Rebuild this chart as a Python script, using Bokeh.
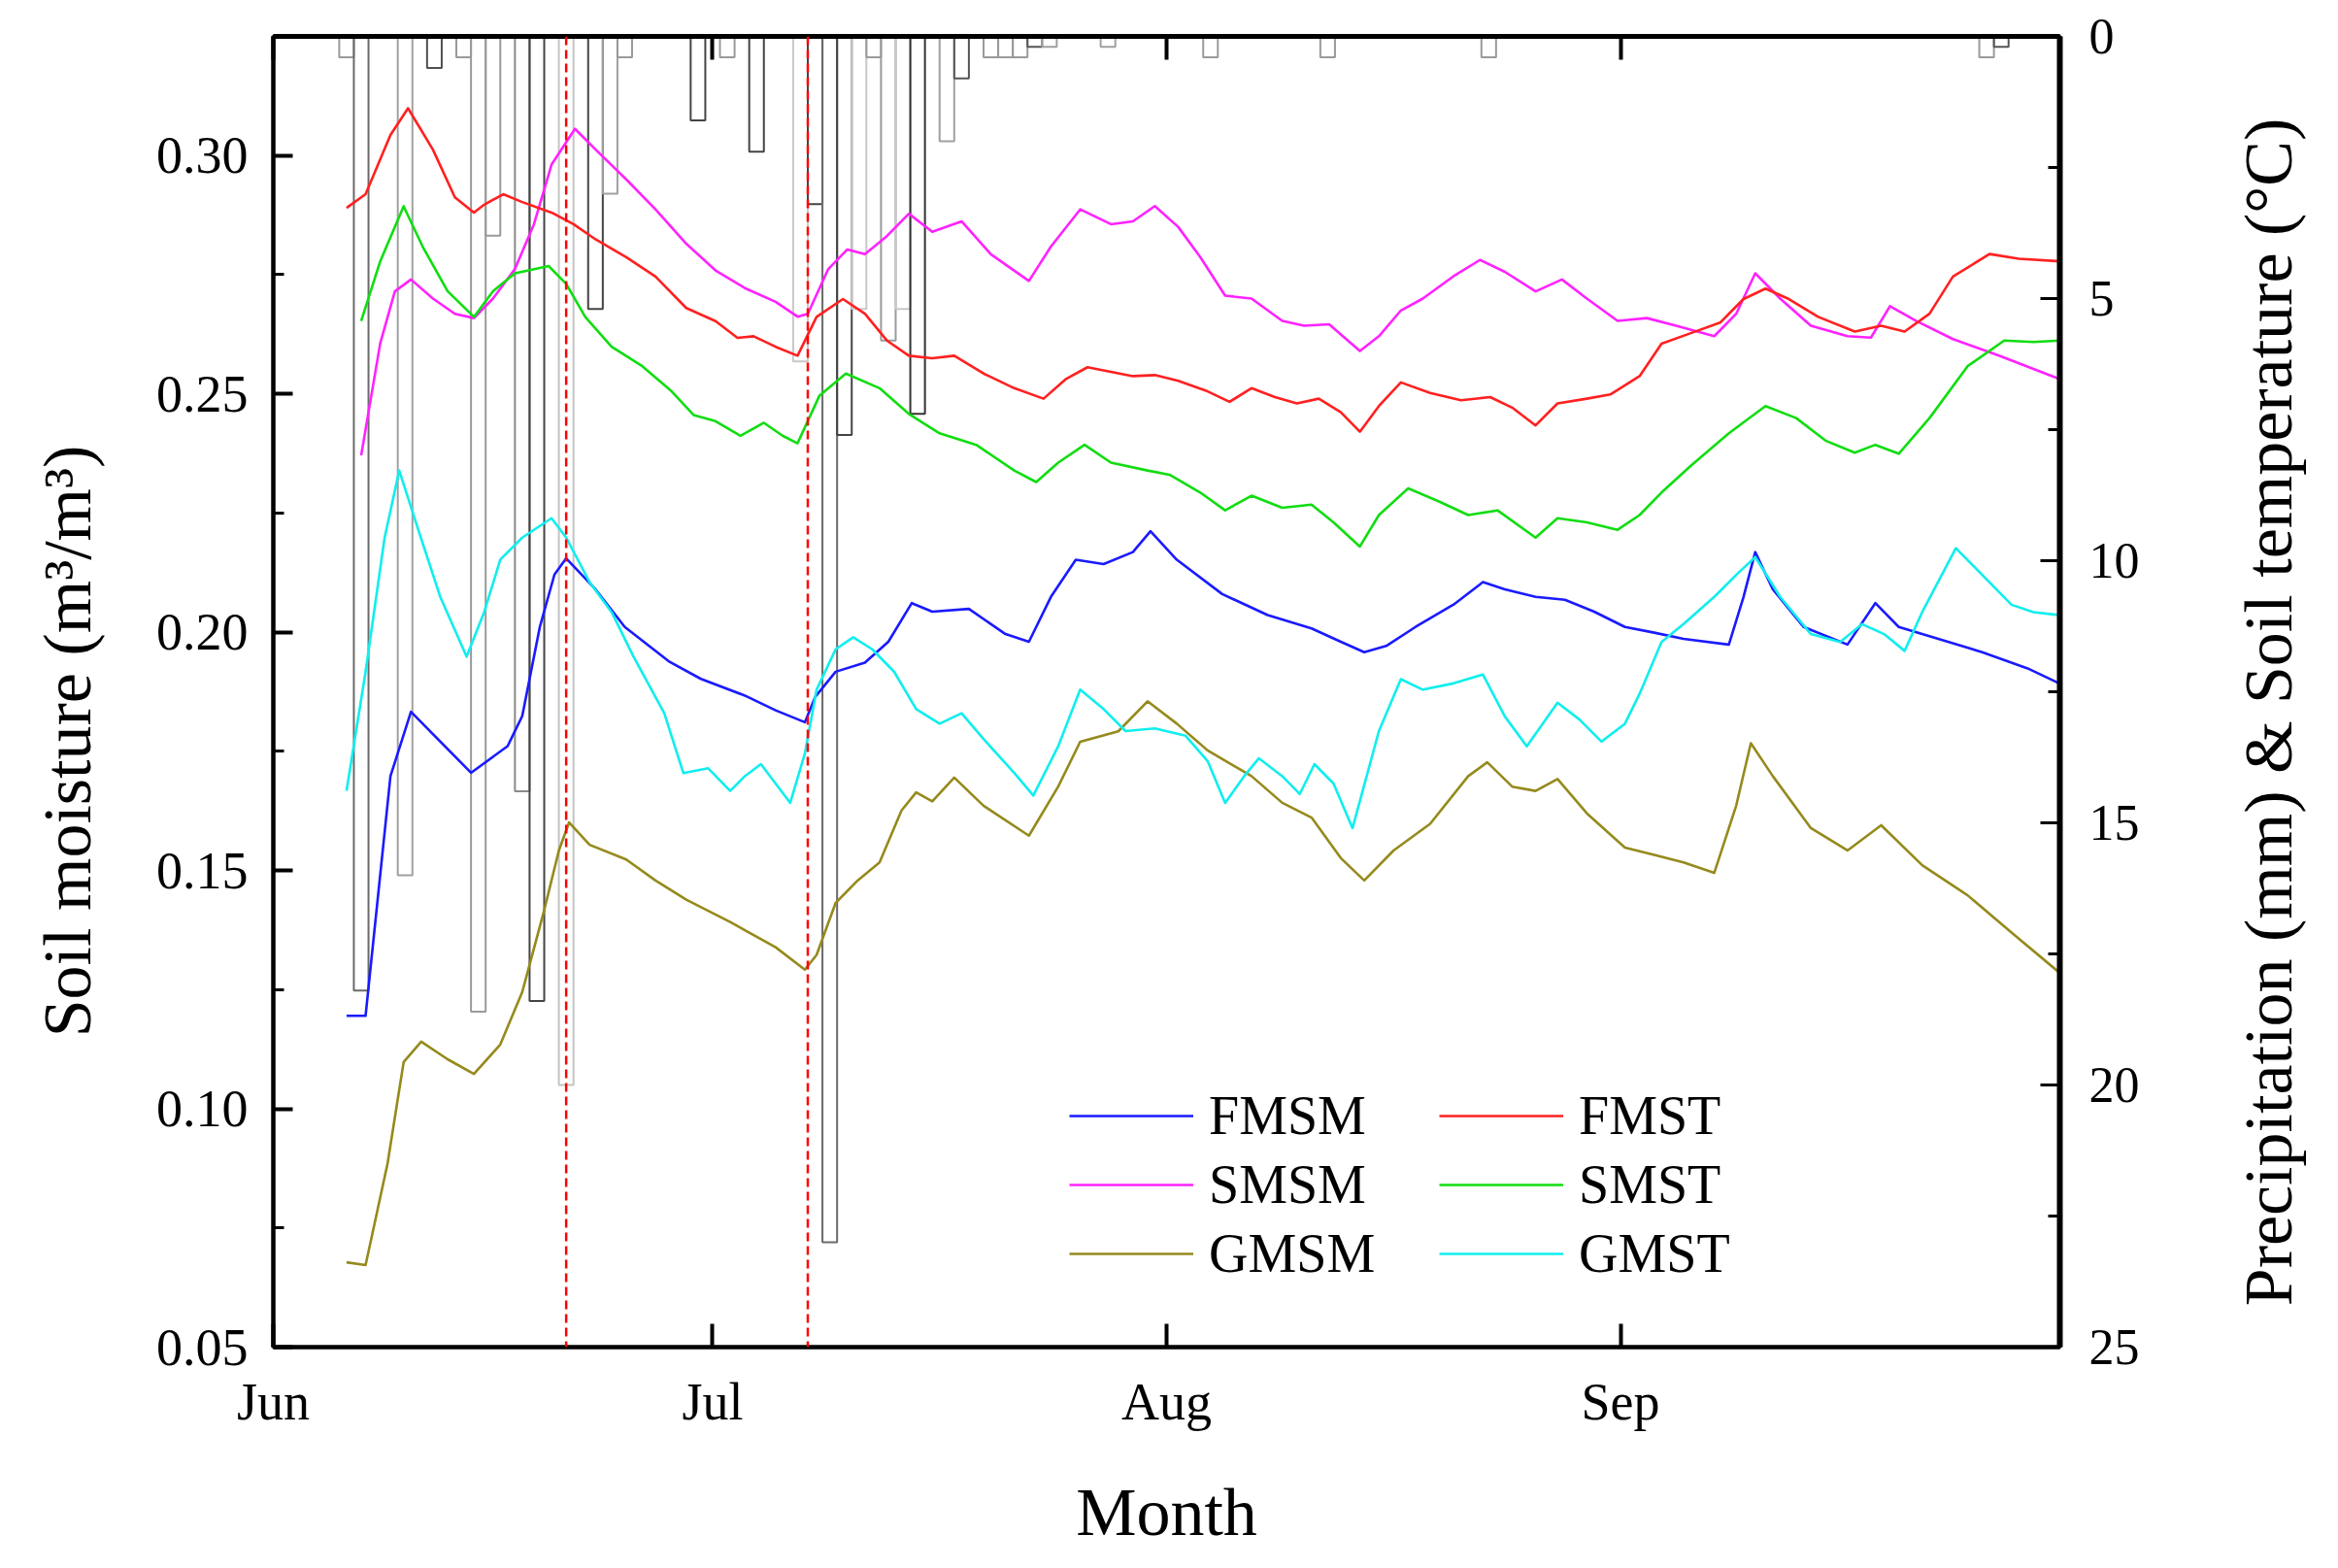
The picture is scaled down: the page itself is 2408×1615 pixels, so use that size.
import math
from bokeh.plotting import figure
from bokeh.layouts import row
from bokeh.core.properties import value
from bokeh.models import (Range1d, LinearAxis, FixedTicker, PrintfTickFormatter,
                          Legend, LegendItem, Span, ColumnDataSource)
from bokeh.embed import file_html
from bokeh.resources import INLINE

# ---------------- data (x = days since 1 June) ----------------
month_ticks = [0, 30, 61, 92]
month_labels = ["Jun", "Jul", "Aug", "Sep"]
event_days = [20, 36.5]

prcp_day = [5, 6, 9, 11, 13, 14, 15, 17, 18, 20, 22, 23, 24, 29, 31, 33, 36, 37, 38, 39,
            40, 41, 42, 43, 44, 46, 47, 49, 50, 51, 52, 53, 57, 64, 72, 83, 117, 118]
prcp_mm = [0.4, 18.2, 16.0, 0.6, 0.4, 18.6, 3.8, 14.4, 18.4, 20.0, 5.2, 3.0, 0.4, 1.6, 0.4, 2.2,
           6.2, 3.2, 23.0, 7.6, 5.2, 0.4, 5.8, 5.2, 7.2, 2.0, 0.8, 0.4, 0.4, 0.4, 0.2, 0.2,
           0.2, 0.4, 0.4, 0.4, 0.4, 0.2]
prcp_shade = ["#9a9a9a", "#6a6a6a", "#a0a0a0", "#505050", "#9a9a9a", "#9a9a9a", "#9a9a9a",
              "#8a8a8a", "#444444", "#c4c4c4", "#444444", "#a0a0a0", "#9a9a9a", "#444444",
              "#9a9a9a", "#444444", "#c8c8c8", "#444444", "#6a6a6a", "#444444", "#c8c8c8",
              "#9a9a9a", "#9a9a9a", "#c8c8c8", "#333333", "#a0a0a0", "#555555", "#9a9a9a",
              "#9a9a9a", "#9a9a9a", "#555555", "#a0a0a0", "#a0a0a0", "#9a9a9a", "#9a9a9a",
              "#9a9a9a", "#9a9a9a", "#555555"]

fmsm_day = [5, 6.3, 8, 9.4, 13.5, 16, 17, 18.2, 19.2, 20, 22, 24, 27, 29.2, 32.2, 34.3, 36.3, 37,
            38.4, 40.4, 42, 43.6, 45, 47.5, 50, 51.6, 53.1, 54.8, 56.7, 58.7, 59.9, 61.7, 64.8,
            67.9, 70.9, 72.9, 74.5, 76, 78, 80.6, 82.6, 84.1, 86.2, 88.2, 90.2, 92.3, 94.3, 96.3,
            99.4, 100.4, 101.2, 102.4, 104.5, 107.5, 109.4, 111, 113.7, 116.7, 119.8, 122]
fmsm = [0.1195, 0.1195, 0.1698, 0.1833, 0.1705, 0.1761, 0.1824, 0.2011, 0.2121, 0.2155, 0.2090,
        0.2011, 0.1939, 0.1902, 0.1867, 0.1836, 0.1811, 0.1864, 0.1917, 0.1936, 0.1980, 0.2061,
        0.2043, 0.2049, 0.1996, 0.1980, 0.2074, 0.2152, 0.2143, 0.2168, 0.2212, 0.2152, 0.2080,
        0.2036, 0.2008, 0.1980, 0.1958, 0.1971, 0.2011, 0.2058, 0.2105, 0.2090, 0.2074, 0.2068,
        0.2043, 0.2011, 0.1999, 0.1986, 0.1974, 0.2074, 0.2168, 0.2090, 0.2011, 0.1974, 0.2061,
        0.2011, 0.1986, 0.1958, 0.1924, 0.1892]

smsm_day = [6, 7.3, 8.3, 9.4, 10.9, 12.4, 13.7, 15, 16.5, 17.8, 19, 20.6, 22, 24.1, 26.1, 28.2,
            30.2, 32.2, 34.3, 35.8, 36.5, 37.9, 39.2, 40.4, 41.9, 43.4, 45, 47, 49, 51.6, 53.1,
            55.1, 57.2, 58.7, 60.2, 61.8, 63.3, 65, 66.8, 68.9, 70.4, 72.1, 74.2, 75.5, 77, 78.5,
            80.6, 82.4, 84.1, 86.2, 88, 89.7, 91.8, 93.8, 95.8, 98.4, 99.9, 101.2, 102.9, 105,
            107.5, 109.1, 110.4, 112.2, 114.7, 117.8, 122]
smsm = [0.2371, 0.2606, 0.2715, 0.2740, 0.2700, 0.2668, 0.2659, 0.2700, 0.2762, 0.2856, 0.2981,
        0.3056, 0.3013, 0.2950, 0.2887, 0.2815, 0.2759, 0.2722, 0.2693, 0.2662, 0.2668, 0.2762,
        0.2803, 0.2793, 0.2831, 0.2878, 0.2840, 0.2862, 0.2793, 0.2737, 0.2809, 0.2887, 0.2856,
        0.2862, 0.2894, 0.2850, 0.2787, 0.2706, 0.2700, 0.2653, 0.2643, 0.2646, 0.2590, 0.2621,
        0.2675, 0.2700, 0.2747, 0.2781, 0.2756, 0.2715, 0.2740, 0.2700, 0.2653, 0.2659, 0.2643,
        0.2621, 0.2668, 0.2753, 0.2700, 0.2643, 0.2621, 0.2618, 0.2684, 0.2653, 0.2615, 0.2581,
        0.2531]

gmsm_day = [5, 6.3, 7.8, 8.9, 10.1, 11.9, 13.7, 15.5, 17, 18.5, 19.5, 20.2, 21.6, 24.1, 26.1,
            28.2, 31.2, 34.3, 36.3, 37.1, 38.4, 39.9, 41.4, 42.9, 43.9, 45, 46.5, 48.5, 51.6,
            53.6, 55.1, 57.7, 59.7, 61.7, 63.8, 66.8, 68.9, 70.9, 72.9, 74.5, 76.5, 79, 81.6,
            82.9, 84.6, 86.2, 87.7, 89.7, 92.3, 94.3, 96.3, 98.4, 99.9, 100.9, 102.4, 105, 107.5,
            109.8, 112.6, 115.7, 118.7, 122]
gmsm = [0.0678, 0.0672, 0.0885, 0.1098, 0.1141, 0.1104, 0.1073, 0.1135, 0.1245, 0.1417, 0.1542,
        0.1601, 0.1554, 0.1523, 0.1479, 0.1439, 0.1392, 0.1339, 0.1292, 0.1323, 0.1432, 0.1479,
        0.1517, 0.1626, 0.1664, 0.1645, 0.1695, 0.1636, 0.1573, 0.1676, 0.1770, 0.1792, 0.1855,
        0.1808, 0.1752, 0.1698, 0.1642, 0.1611, 0.1526, 0.1479, 0.1542, 0.1598, 0.1698, 0.1727,
        0.1676, 0.1667, 0.1692, 0.1620, 0.1548, 0.1533, 0.1517, 0.1495, 0.1636, 0.1767, 0.1698,
        0.1589, 0.1542, 0.1595, 0.1511, 0.1448, 0.1370, 0.1285]

fmst_day = [5, 6.3, 8, 9.2, 10.9, 12.4, 13.7, 14.4, 15.7, 17, 19, 20.5, 22, 24.1, 26.1, 28.2,
            30.2, 31.7, 32.8, 34.3, 35.8, 37.1, 38.9, 40.4, 41.9, 43.4, 45, 46.5, 48.5, 50.6,
            52.6, 54.1, 55.6, 57.2, 58.7, 60.2, 61.8, 63.8, 65.3, 66.8, 68.4, 69.9, 71.4, 72.9,
            74.2, 75.5, 77, 79, 81.1, 83.1, 84.6, 86.2, 87.7, 89.7, 91.3, 93.3, 94.8, 96.8, 98.8,
            100.4, 101.9, 103.5, 105.5, 108, 109.8, 111.4, 113.1, 114.7, 117.2, 119.2, 122]
fmst = [3.27, 3.01, 1.88, 1.37, 2.16, 3.07, 3.36, 3.21, 3.01, 3.16, 3.36, 3.58, 3.87, 4.21, 4.58,
        5.18, 5.43, 5.75, 5.72, 5.92, 6.09, 5.35, 5.01, 5.29, 5.80, 6.09, 6.14, 6.09, 6.43, 6.71,
        6.91, 6.54, 6.31, 6.40, 6.48, 6.46, 6.57, 6.77, 6.97, 6.71, 6.88, 7.00, 6.91, 7.17, 7.54,
        7.05, 6.60, 6.80, 6.94, 6.88, 7.08, 7.42, 7.00, 6.91, 6.83, 6.48, 5.86, 5.66, 5.46, 5.01,
        4.81, 5.01, 5.35, 5.63, 5.52, 5.63, 5.29, 4.58, 4.15, 4.24, 4.29]

smst_day = [6, 7.3, 8.9, 10.2, 11.9, 13.7, 15, 16.5, 18.8, 20, 21.3, 23.1, 25.2, 27.2, 28.7,
            30.2, 31.9, 33.5, 34.8, 35.8, 37.3, 39.1, 41.4, 43.4, 45.5, 48, 50.6, 52.1, 53.6,
            55.4, 57.2, 59.7, 61.2, 63.3, 65, 66.8, 68.9, 70.9, 72.4, 74.2, 75.5, 77.5, 79.6,
            81.6, 83.6, 86.2, 87.7, 89.7, 91.8, 93.3, 94.8, 96.8, 99.4, 101.9, 104, 106, 108,
            109.4, 111, 113.1, 115.7, 118.2, 120.2, 122]
smst = [5.43, 4.29, 3.24, 4.01, 4.86, 5.35, 4.86, 4.52, 4.38, 4.72, 5.35, 5.92, 6.29, 6.77, 7.22,
        7.34, 7.62, 7.37, 7.62, 7.76, 6.85, 6.43, 6.71, 7.20, 7.57, 7.79, 8.28, 8.50, 8.13, 7.79,
        8.13, 8.28, 8.36, 8.70, 9.04, 8.76, 8.99, 8.93, 9.27, 9.73, 9.13, 8.62, 8.87, 9.13, 9.04,
        9.56, 9.19, 9.27, 9.41, 9.13, 8.70, 8.19, 7.57, 7.05, 7.28, 7.71, 7.94, 7.79, 7.96, 7.28,
        6.29, 5.80, 5.83, 5.80]

gmst_day = [5, 6.3, 7.6, 8.6, 9.9, 11.4, 13.2, 14.4, 15.5, 17, 19, 20, 21.6, 23.1, 24.6, 26.7,
            28, 29.7, 31.2, 32.2, 33.3, 34.3, 35.3, 36.3, 37.1, 38.4, 39.6, 40.9, 42.4, 43.9,
            45.5, 47, 48.5, 50.6, 51.9, 53.6, 55.1, 56.7, 58.2, 60.2, 62.3, 63.8, 65, 66.3, 67.3,
            68.9, 70.1, 71.1, 72.4, 73.7, 75.5, 77, 78.5, 80.6, 82.6, 84.1, 85.6, 87.7, 89.2,
            90.7, 92.3, 93.3, 94.8, 96.3, 98.4, 99.9, 101.2, 102.9, 105, 107, 108.5, 110, 111.4,
            112.6, 114.9, 116.7, 118.7, 120.2, 122]
gmst = [14.39, 12.12, 9.56, 8.28, 9.41, 10.69, 11.83, 10.98, 9.98, 9.56, 9.19, 9.56, 10.41, 10.98,
        11.83, 12.91, 14.05, 13.96, 14.39, 14.11, 13.88, 14.25, 14.62, 13.68, 12.46, 11.69, 11.46,
        11.69, 12.12, 12.83, 13.11, 12.91, 13.40, 14.05, 14.48, 13.54, 12.46, 12.83, 13.25, 13.20,
        13.34, 13.82, 14.62, 14.11, 13.77, 14.11, 14.45, 13.88, 14.25, 15.10, 13.25, 12.26, 12.46,
        12.34, 12.17, 12.97, 13.54, 12.71, 13.03, 13.45, 13.11, 12.54, 11.55, 11.21, 10.69, 10.27,
        9.93, 10.69, 11.40, 11.55, 11.21, 11.40, 11.72, 10.98, 9.76, 10.27, 10.84, 10.98, 11.04]

left_title = "Soil moisture (m³/m³)"
right_title = "Precipitation (mm) & Soil temperature (°C)"

# ---------------- layout constants ----------------
SERIF = "Liberation Serif"
LEFT_W = 120
RIGHT_W = 118
MAIN_W = 2408 - LEFT_W - RIGHT_W
FRAME_L, FRAME_R, FRAME_T, FRAME_B = 281, 2121, 37, 1387
FRAME_H = FRAME_B - FRAME_T

p = figure(width=MAIN_W, height=1615, output_backend="svg", toolbar_location=None,
           x_range=Range1d(0, 122), y_range=Range1d(0.05, 0.325),
           min_border_left=FRAME_L - LEFT_W, min_border_right=(LEFT_W + MAIN_W) - FRAME_R,
           min_border_top=FRAME_T, min_border_bottom=1615 - FRAME_B,
           background_fill_color="white", border_fill_color="white")
p.extra_y_ranges = {"r": Range1d(start=25, end=0)}
p.grid.visible = False
p.outline_line_color = "black"
p.outline_line_width = 4

# precipitation bars hanging from the top
src = ColumnDataSource(dict(x=prcp_day, v=prcp_mm, c=prcp_shade, z=[0] * len(prcp_day)))
p.vbar(x="x", width=1.0, top="z", bottom="v", source=src, y_range_name="r",
       fill_color=None, line_color="c", line_width=2)

lw = 2.6
r_fmsm = p.line(fmsm_day, fmsm, line_color="#1a1aff", line_width=lw, line_join="round")
r_smsm = p.line(smsm_day, smsm, line_color="#ff22ff", line_width=lw, line_join="round")
r_gmsm = p.line(gmsm_day, gmsm, line_color="#958a1c", line_width=lw, line_join="round")
r_fmst = p.line(fmst_day, fmst, line_color="#ff2020", line_width=lw, y_range_name="r", line_join="round")
r_smst = p.line(smst_day, smst, line_color="#11dd11", line_width=lw, y_range_name="r", line_join="round")
r_gmst = p.line(gmst_day, gmst, line_color="#11eeee", line_width=lw, y_range_name="r", line_join="round")

for d in event_days:
    p.add_layout(Span(location=d, dimension="height", line_color="#ff0000",
                      line_dash="9 5", line_width=2.5))

# ---------------- axes ----------------
xa = p.xaxis[0]
xa.ticker = FixedTicker(ticks=month_ticks, minor_ticks=[])
xa.major_label_overrides = {t: l for t, l in zip(month_ticks, month_labels)}
xa.axis_label = "Month"
xa.major_tick_in = 24
xa.major_tick_out = 0
xa.minor_tick_in = 0
xa.minor_tick_out = 0
xa.axis_line_width = 4
xa.major_tick_line_width = 4
xa.major_label_standoff = 26
xa.axis_label_standoff = 42

ya = p.yaxis[0]
ya.ticker = FixedTicker(ticks=[0.05, 0.10, 0.15, 0.20, 0.25, 0.30],
                        minor_ticks=[0.075, 0.125, 0.175, 0.225, 0.275, 0.325])
ya.formatter = PrintfTickFormatter(format="%.2f")
ya.major_tick_in = 20
ya.major_tick_out = 0
ya.minor_tick_in = 11
ya.minor_tick_out = 0
ya.axis_line_width = 4
ya.major_tick_line_width = 4
ya.minor_tick_line_width = 3
ya.major_label_standoff = 26

ra = LinearAxis(y_range_name="r")
ra.ticker = FixedTicker(ticks=[0, 5, 10, 15, 20, 25], minor_ticks=[2.5, 7.5, 12.5, 17.5, 22.5])
ra.major_tick_in = 20
ra.major_tick_out = 0
ra.minor_tick_in = 12
ra.minor_tick_out = 0
ra.axis_line_width = 6
ra.major_tick_line_width = 3
ra.minor_tick_line_width = 3
ra.major_label_standoff = 30
p.add_layout(ra, "right")

ta = LinearAxis(axis_label=None)
ta.ticker = FixedTicker(ticks=month_ticks, minor_ticks=[])
ta.major_label_overrides = {t: "" for t in month_ticks}
ta.major_label_standoff = 0
ta.major_tick_in = 24
ta.major_tick_out = 0
ta.minor_tick_in = 0
ta.minor_tick_out = 0
ta.axis_line_width = 5
ta.major_tick_line_width = 4
p.add_layout(ta, "above")

for ax in (xa, ya, ra):
    ax.major_label_text_font = SERIF
    ax.axis_label_text_font = SERIF
    ax.axis_label_text_font_style = "normal"
    ax.axis_label_text_font_size = "70px"
    ax.major_label_text_color = "black"
    ax.axis_label_text_color = "black"
xa.major_label_text_font_size = "54px"
ya.major_label_text_font_size = "54px"
ra.major_label_text_font_size = "52px"

# ---------------- legends ----------------
def make_legend(items, x):
    return Legend(items=items, location=(x, 64), orientation="vertical",
                  label_text_font=SERIF, label_text_font_size="56px", label_text_color="black",
                  glyph_width=128, glyph_height=56, label_height=56,
                  label_standoff=16, spacing=7, padding=0, margin=0,
                  border_line_color=None, background_fill_alpha=0)

leg1 = make_legend([LegendItem(label="FMSM", renderers=[r_fmsm]),
                    LegendItem(label="SMSM", renderers=[r_smsm]),
                    LegendItem(label="GMSM", renderers=[r_gmsm])], 820)
leg2 = make_legend([LegendItem(label="FMST", renderers=[r_fmst]),
                    LegendItem(label="SMST", renderers=[r_smst]),
                    LegendItem(label="GMST", renderers=[r_gmst])], 1201)
p.add_layout(leg1)
p.add_layout(leg2)

# ---------------- side strips holding the vertical titles (read bottom to top) ----------------
def title_strip(width, text, cx, cy):
    s = figure(width=width, height=1615, output_backend="svg", toolbar_location=None,
               x_range=Range1d(0, width), y_range=Range1d(0, FRAME_H),
               x_axis_location=None, y_axis_location=None, min_border=0,
               outline_line_color=None, background_fill_color="white", border_fill_color="white")
    s.grid.visible = False
    s.text(x=[cx], y=[FRAME_B - cy], text=[text], angle=math.pi / 2,
           text_align="center", text_baseline="middle", text_font=value(SERIF),
           text_font_size="70px", text_color="black")
    return s

left_strip = title_strip(LEFT_W, left_title, 69, 763)
right_strip = title_strip(RIGHT_W, right_title, 2336 - (LEFT_W + MAIN_W), 733)

layout = row(left_strip, p, right_strip, spacing=0)
open("out.html", "w").write(file_html(layout, INLINE))
